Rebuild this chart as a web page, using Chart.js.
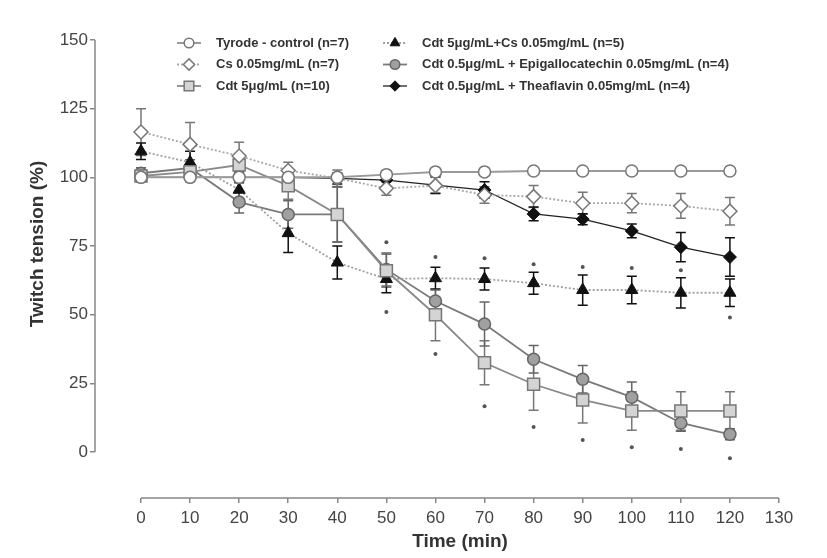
<!DOCTYPE html>
<html>
<head>
<meta charset="utf-8">
<script src="https://cdn.jsdelivr.net/npm/chart.js@4/dist/chart.umd.min.js"></script>
<style>
  html, body { margin: 0; padding: 0; background: #fff; }
  #wrap { width: 827px; height: 558px; }
</style>
</head>
<body>
<div id="wrap"><canvas id="chart"></canvas></div>
<script>
// time points (min)
const times = [0, 10, 20, 30, 40, 50, 60, 70, 80, 90, 100, 110, 120];
const xTicks = [0, 10, 20, 30, 40, 50, 60, 70, 80, 90, 100, 110, 120, 130];
const yTicks = [0, 25, 50, 75, 100, 125, 150];

// means and SEM
const tyrode    = [100, 100, 100, 100, 100, 101, 102, 102, 102.3, 102.3, 102.3, 102.3, 102.3];
const tyrodeErr = [1, 1, 1, 1, 1, 1, 0.5, 0.5, 0.5, 0.5, 0.5, 0.5, 0.5];

const cs    = [116.5, 112, 107.8, 102.5, 99.7, 96, 97, 93.6, 93, 90.6, 90.6, 89.6, 87.7];
const csErr = [8.5, 8, 5, 3, 3, 2.5, 3, 3, 4, 4, 3.5, 4.5, 5];

const cdt5    = [100.5, 102, 104.5, 97, 86.5, 66, 50, 32.5, 24.7, 19, 15, 15, 15];
const cdt5Err = [2, 2, 4, 5, 10, 6, 9.5, 8, 9.5, 8.4, 7, 7, 7];

const cdtCs    = [109.5, 105.5, 95.5, 79.7, 69, 63, 63.3, 63, 61.5, 59, 59, 58, 58];
const cdtCsErr = [3, 4, 5, 7, 6, 5, 4, 4, 4, 5.5, 5, 5.5, 5];

const egcg    = [101.5, 103.4, 91, 86.5, 86.5, 66.5, 55, 46.6, 33.8, 26.5, 20, 10.6, 6.5];
const egcgErr = [2, 3, 4, 5, 10, 6, 4, 8, 5, 5, 5.5, 3, 2];

const thea    = [100, 100, 100, 100, 99.6, 99, 97.2, 95.4, 86.7, 84.8, 80.5, 74.6, 71];
const theaErr = [1.5, 1.5, 2, 2, 2, 3, 3, 3, 2.5, 2, 2.5, 5.3, 7];

// significance marks (*)
const sigX = [50, 60, 70, 80, 90, 100, 110, 50, 60, 70, 80, 90, 100, 110, 120, 120];
const sigY = [76.4, 71, 70.6, 68.4, 67.4, 67, 66.2, 51, 35.7, 16.7, 9.1, 4.4, 1.8, 1.1, -2.2, 49];

function pts(ys) {
  return ys.map((y, i) => ({ x: times[i], y: y }));
}

const grey = '#8a8a8a';
const fontFam = '"Liberation Sans", Arial, sans-serif';

const datasets = [
  {
    label: 'Tyrode - control (n=7)', data: pts(tyrode), err: tyrodeErr,
    borderColor: '#9a9a9a', borderWidth: 2, pointStyle: 'circle', pointRadius: 6,
    pointBackgroundColor: '#fff', pointBorderColor: '#777', pointBorderWidth: 1.5
  },
  {
    label: 'Cs 0.05mg/mL (n=7)', data: pts(cs), err: csErr,
    borderColor: '#a8a8a8', borderWidth: 1.8, borderDash: [2, 2], pointStyle: 'rectRot', pointRadius: 7,
    pointBackgroundColor: '#fff', pointBorderColor: '#777', pointBorderWidth: 1.5
  },
  {
    label: 'Cdt 5μg/mL (n=10)', data: pts(cdt5), err: cdt5Err,
    borderColor: grey, borderWidth: 1.8, pointStyle: 'rect', pointRadius: 8.5,
    pointBackgroundColor: '#d4d4d4', pointBorderColor: '#777', pointBorderWidth: 1.5
  },
  {
    label: 'Cdt 5μg/mL+Cs 0.05mg/mL (n=5)', data: pts(cdtCs), err: cdtCsErr,
    borderColor: '#a0a0a0', borderWidth: 1.8, borderDash: [2, 2], pointStyle: 'triangle', pointRadius: 7,
    pointBackgroundColor: '#111', pointBorderColor: '#111', pointBorderWidth: 1
  },
  {
    label: 'Cdt 0.5μg/mL + Epigallocatechin 0.05mg/mL (n=4)', data: pts(egcg), err: egcgErr,
    borderColor: '#7a7a7a', borderWidth: 1.8, pointStyle: 'circle', pointRadius: 6,
    pointBackgroundColor: '#a0a0a0', pointBorderColor: '#666', pointBorderWidth: 1.5
  },
  {
    label: 'Cdt 0.5μg/mL + Theaflavin 0.05mg/mL (n=4)', data: pts(thea), err: theaErr,
    borderColor: '#222', borderWidth: 1.3, pointStyle: 'rectRot', pointRadius: 6.5,
    pointBackgroundColor: '#111', pointBorderColor: '#111', pointBorderWidth: 1
  },
  {
    label: 'sig', data: sigX.map((x, i) => ({ x: x, y: sigY[i] })), showLine: false,
    pointStyle: 'circle', pointRadius: 2, pointBackgroundColor: '#555', pointBorderColor: '#555',
    pointBorderWidth: 0
  }
];

// legend layout: column, row for each dataset
const legendSlots = [[0, 0], [0, 1], [0, 2], [1, 0], [1, 1], [1, 2]];

const errorBars = {
  id: 'errorBars',
  beforeDatasetsDraw(chart) {
    const ctx = chart.ctx;
    const ys = chart.scales.y;
    chart.data.datasets.forEach((ds, i) => {
      if (!ds.err) return;
      const meta = chart.getDatasetMeta(i);
      ctx.save();
      ctx.strokeStyle = ds.pointBorderColor;
      ctx.lineWidth = 1.5;
      meta.data.forEach((p, j) => {
        const v = ds.data[j].y, e = ds.err[j];
        const top = ys.getPixelForValue(v + e);
        const bot = ys.getPixelForValue(v - e);
        ctx.beginPath();
        ctx.moveTo(p.x, top); ctx.lineTo(p.x, bot);
        ctx.moveTo(p.x - 5, top); ctx.lineTo(p.x + 5, top);
        ctx.moveTo(p.x - 5, bot); ctx.lineTo(p.x + 5, bot);
        ctx.stroke();
      });
      ctx.restore();
    });
  }
};

const decorations = {
  id: 'decorations',
  afterDraw(chart) {
    const ctx = chart.ctx;
    const xs = chart.scales.x, ys = chart.scales.y;
    ctx.save();
    // axis lines
    ctx.strokeStyle = '#888';
    ctx.lineWidth = 1.5;
    ctx.beginPath();
    ctx.moveTo(xs.left, ys.getPixelForValue(0));
    ctx.lineTo(xs.left, ys.getPixelForValue(150));
    ctx.moveTo(xs.getPixelForValue(0), ys.bottom);
    ctx.lineTo(xs.getPixelForValue(130), ys.bottom);
    ctx.stroke();

    // axis titles
    ctx.fillStyle = '#333';
    ctx.font = 'bold 19px ' + fontFam;
    ctx.textAlign = 'center';
    ctx.textBaseline = 'middle';
    ctx.fillText('Time (min)', (xs.getPixelForValue(0) + xs.getPixelForValue(130)) / 2, 542);
    ctx.translate(38, 244);
    ctx.rotate(-Math.PI / 2);
    ctx.fillText('Twitch tension (%)', 0, 0);
    ctx.restore();

    // legend
    ctx.save();
    ctx.font = 'bold 13px ' + fontFam;
    ctx.textBaseline = 'middle';
    legendSlots.forEach((slot, i) => {
      const ds = chart.data.datasets[i];
      const mx = slot[0] === 0 ? 189 : 395;
      const my = 43 + slot[1] * 21.5;
      ctx.strokeStyle = ds.borderColor;
      ctx.lineWidth = ds.borderWidth;
      ctx.setLineDash(ds.borderDash || []);
      ctx.beginPath();
      ctx.moveTo(mx - 12, my); ctx.lineTo(mx + 12, my);
      ctx.stroke();
      ctx.setLineDash([]);
      ctx.fillStyle = ds.pointBackgroundColor;
      ctx.strokeStyle = ds.pointBorderColor;
      ctx.lineWidth = ds.pointBorderWidth;
      Chart.helpers.drawPoint(ctx, {
        pointStyle: ds.pointStyle, radius: ds.pointRadius * 0.8, rotation: 0, borderWidth: ds.pointBorderWidth
      }, mx, my);
      ctx.fillStyle = '#333';
      ctx.textAlign = 'left';
      ctx.fillText(ds.label, mx + 27, my);
    });
    ctx.restore();
  }
};

new Chart(document.getElementById('chart'), {
  type: 'line',
  data: { datasets: datasets },
  options: {
    responsive: true,
    maintainAspectRatio: false,
    animation: false,
    layout: { padding: { top: 40, right: 48, left: 0, bottom: 0 } },
    plugins: { legend: { display: false }, tooltip: { enabled: false } },
    elements: { line: { tension: 0, fill: false } },
    scales: {
      x: {
        type: 'linear',
        min: -9.37,
        max: 130,
        afterBuildTicks: s => { s.ticks = xTicks.map(v => ({ value: v })); },
        afterFit: s => { s.height = 60; },
        grid: { drawOnChartArea: false, drawTicks: true, tickLength: 5, color: '#888', lineWidth: 1.5 },
        border: { display: false },
        ticks: { color: '#444', font: { size: 17, family: fontFam }, padding: 5, maxRotation: 0 }
      },
      y: {
        type: 'linear',
        min: -16.7,
        max: 150,
        afterBuildTicks: s => { s.ticks = yTicks.map(v => ({ value: v })); },
        afterFit: s => { s.width = 95; },
        grid: { drawOnChartArea: false, drawTicks: true, tickLength: 5, color: '#888', lineWidth: 1.5 },
        border: { display: false },
        ticks: { color: '#444', font: { size: 17, family: fontFam }, padding: 2 }
      }
    }
  },
  plugins: [errorBars, decorations]
});
</script>
</body>
</html>
